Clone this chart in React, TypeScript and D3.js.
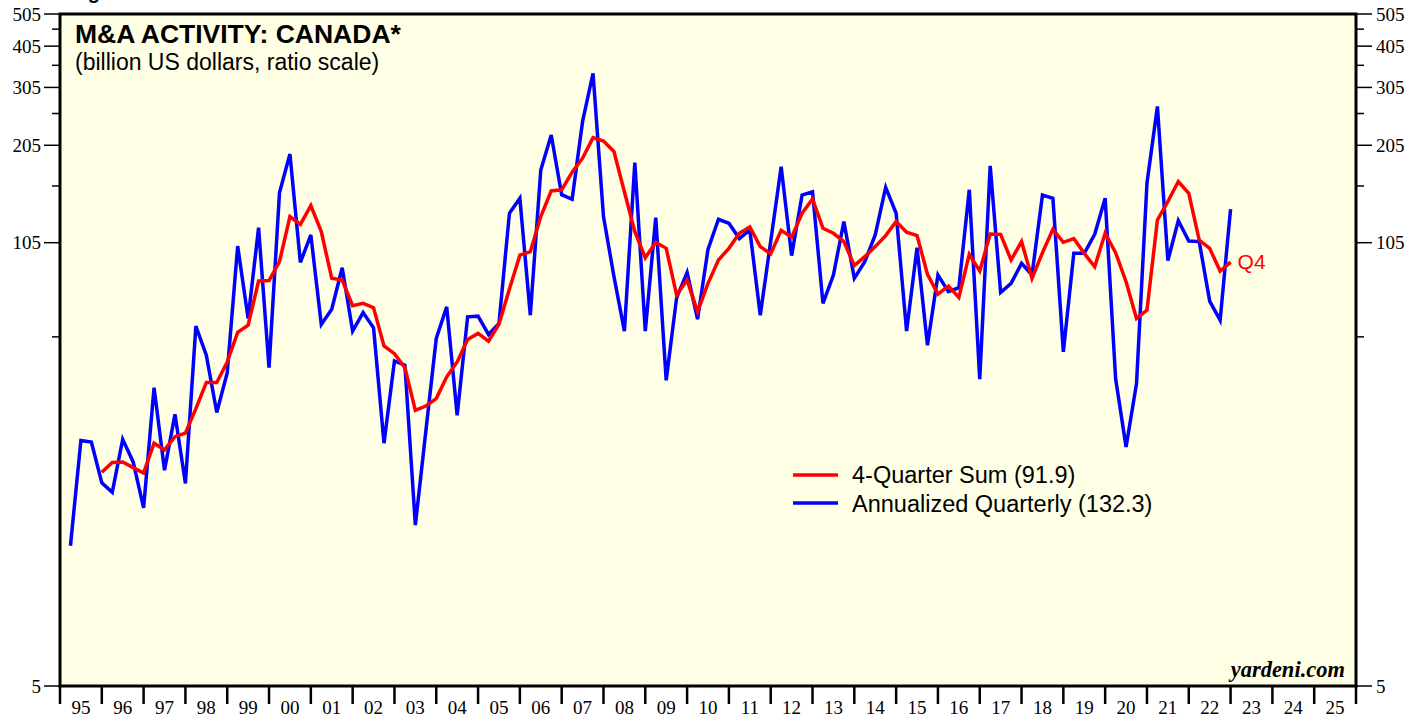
import React from "react";
import * as d3 from "d3";

// quarterly values, 1995Q1 .. 2022Q4 (billion US$, annualized)
const blueStart = 1995;
const annualizedQuarterly = [
  13.1, 27.0, 26.7, 20.2,
  18.9, 27.2, 23.3, 17.0,
  38.8, 22.0, 32.3, 20.1,
  59.2, 48.5, 32.7, 43.0,
  102.6, 62.4, 116.4, 44.5,
  148, 193, 91.7, 110.7,
  59.9, 66.5, 88.4, 57.2,
  65.0, 58.5, 26.5, 46.6,
  45.3, 15.1, 28.7, 54.4,
  67.6, 32.1, 63.1, 63.4,
  55.9, 60.3, 128.5, 142.5,
  63.8, 173, 220, 146,
  141.5, 241.5, 336, 125.6,
  83.3, 57.2, 182, 57.2,
  124.8, 40.8, 72.0, 85.6,
  62.1, 100.3, 123.3, 120,
  108, 114.6, 63.8, 106,
  177, 96.1, 145.7, 149,
  69.2, 84.1, 121.4, 82.2,
  92.2, 110.7, 153.6, 128.5,
  57.2, 101.4, 51.9, 84.1,
  75.0, 77.1, 151, 41.1,
  178, 74.6, 79.4, 91.1,
  84.1, 145.7, 142.5, 49.6,
  97.6, 97.6, 111.2, 142.5,
  41.3, 25.8, 39.9, 158,
  267.6, 92.8, 122.2, 106.2,
  105.8, 70.3, 61.7, 132.3,
];

// 4-quarter sum, 1995Q4 .. 2022Q4
const sumStart = 1995.75;
const fourQuarterSum = [
  21.7,
  23.2, 23.3, 22.4, 21.6,
  26.5, 25.3, 27.7, 28.4,
  33.6, 40.2, 40.2, 46.3,
  56.7, 59.6, 80.7, 81.0,
  92.2, 125.6, 119, 135.4,
  113.3, 82.2, 81.2, 68.1,
  69.2, 67.2, 51.7, 49.0,
  44.5, 33.2, 34.2, 36.0,
  41.8, 46.3, 54.0, 56.3,
  53.4, 60.0, 76.4, 96.4,
  98.7, 125.6, 149.8, 151,
  170.5, 187.6, 216, 211,
  196.4, 149, 113.3, 94.7,
  105.3, 101, 73.3, 81.2,
  65.4, 79.4, 93.2, 101,
  112, 117, 102.2, 97.3,
  114.3, 109, 128.5, 141.8,
  115.9, 112, 105.8, 89.7,
  95.4, 102.2, 110.2, 121.4,
  112.8, 110.2, 84.5, 73.8,
  77.9, 72.1, 96.9, 86.4,
  111.5, 111.2, 93.2, 105.8,
  82.2, 98.0, 115.1, 105.3,
  108, 97.6, 89.0, 112,
  98.0, 80.3, 62.4, 66.1,
  122.7, 139.3, 159.8, 147.4,
  106.9, 101, 86.4, 91.9,
];

const years = d3.range(1995, 2026);
const yTicks = d3.range(5, 506, 50);
const yLabels = [5, 105, 205, 305, 405, 505];

const W = 1426, H = 717;
const L = 60, R = 1356, T = 14, B = 686;

const App = () => {
  const x = d3.scaleLinear().domain([1995, 2026]).range([L, R]);
  const y = d3.scaleLog().domain([5, 505]).range([B, T]);

  // points sit at quarter ends
  const blue = annualizedQuarterly.map((v, i) => [blueStart + (i + 1) / 4, v]);
  const red = fourQuarterSum.map((v, i) => [sumStart + (i + 1) / 4, v]);

  const line = d3
    .line<number[]>()
    .x(d => x(d[0]))
    .y(d => y(d[1]));

  const lastRed = red[red.length - 1];
  const serif = "'Liberation Serif', 'Times New Roman', serif";
  const sans = "'Liberation Sans', Arial, sans-serif";

  return (
    <svg
      width={W}
      height={H}
      style={{ position: "absolute", left: 0, top: 0, background: "#fff" }}
    >
      {/* figure caption, mostly cut off at the top edge */}
      <text x={70} y={-1} fontFamily={sans} fontWeight="bold" fontSize={20}>
        Figure 1.
      </text>

      <rect x={L} y={T} width={R - L} height={B - T} fill="#ffffe5" />

      {/* y ticks both sides */}
      {yTicks.map(t => {
        const major = yLabels.includes(t);
        return (
          <g key={t}>
            <line x1={major ? L - 16 : L - 8} x2={L} y1={y(t)} y2={y(t)} stroke="#000" strokeWidth={1.5} />
            <line x1={R} x2={major ? R + 16 : R + 8} y1={y(t)} y2={y(t)} stroke="#000" strokeWidth={1.5} />
          </g>
        );
      })}
      {yLabels.map(t => (
        <g key={t} fontFamily={serif} fontSize={19} fill="#000">
          <text x={L - 19} y={y(t)} dy="0.35em" textAnchor="end">{t}</text>
          <text x={R + 20} y={y(t)} dy="0.35em">{t}</text>
        </g>
      ))}

      {/* x ticks and year labels */}
      {years.concat([2026]).map(yr => (
        <line key={yr} x1={x(yr)} x2={x(yr)} y1={B} y2={B + 18} stroke="#000" strokeWidth={2.5} />
      ))}
      {years.map(yr => (
        <text
          key={yr}
          x={x(yr + 0.5)}
          y={714}
          textAnchor="middle"
          fontFamily={serif}
          fontSize={19}
        >
          {String(yr).slice(2)}
        </text>
      ))}

      <path d={line(blue) ?? ""} fill="none" stroke="#0000ff" strokeWidth={3.5} strokeLinejoin="miter" />
      <path d={line(red) ?? ""} fill="none" stroke="#ff0000" strokeWidth={3.5} strokeLinejoin="miter" />

      <text x={x(lastRed[0]) + 7} y={y(lastRed[1])} dy="0.35em" fill="#ff0000" fontFamily={sans} fontSize={21}>
        Q4
      </text>

      <rect x={L} y={T} width={R - L} height={B - T} fill="none" stroke="#000" strokeWidth={3} />

      <text x={75} y={43} fontFamily={sans} fontWeight="bold" fontSize={26.5}>
        M&amp;A ACTIVITY: CANADA*
      </text>
      <text x={75} y={70} fontFamily={sans} fontSize={23}>
        (billion US dollars, ratio scale)
      </text>

      {/* legend */}
      <g fontFamily={sans} fontSize={23.5}>
        <line x1={793} x2={838} y1={475} y2={475} stroke="#ff0000" strokeWidth={3.5} />
        <text x={852} y={483}>4-Quarter Sum (91.9)</text>
        <line x1={793} x2={838} y1={503} y2={503} stroke="#0000ff" strokeWidth={3.5} />
        <text x={852} y={512}>Annualized Quarterly (132.3)</text>
      </g>

      <text
        x={1345}
        y={677}
        textAnchor="end"
        fontFamily={serif}
        fontWeight="bold"
        fontStyle="italic"
        fontSize={22.5}
      >
        yardeni.com
      </text>
    </svg>
  );
};

export default App;
